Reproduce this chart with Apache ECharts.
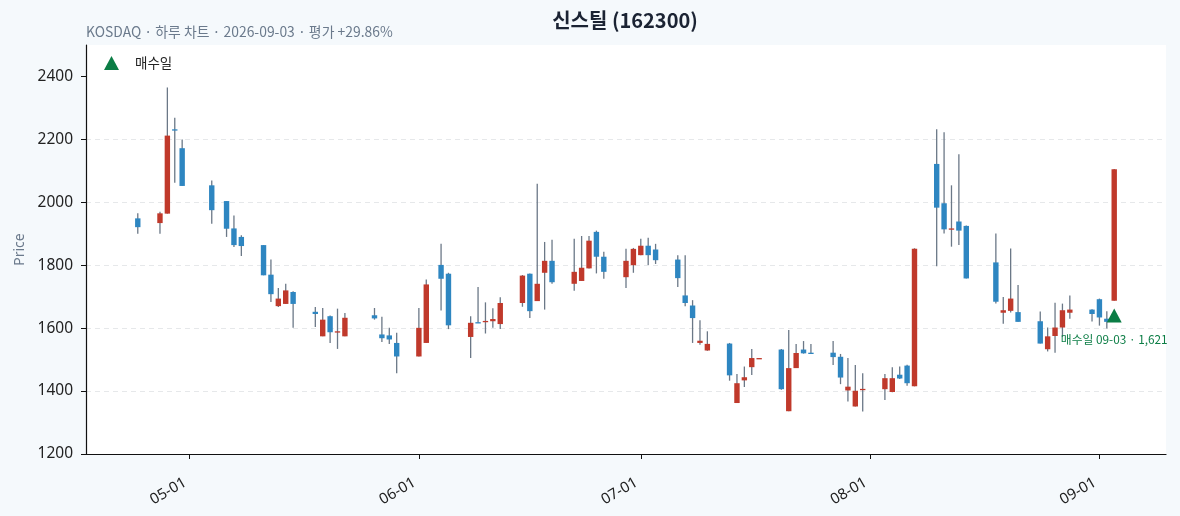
<!DOCTYPE html>
<html>
<head>
<meta charset="utf-8">
<title>신스틸 (162300)</title>
<script src="https://cdn.jsdelivr.net/npm/echarts@6/dist/echarts.min.js"></script>
<style>
  html, body { margin: 0; padding: 0; background: #f5f9fc; }
  #chart { width: 1180px; height: 516px; }
</style>
</head>
<body>
<div id="chart"></div>
<script>
// 일봉 데이터 (날짜, 시가, 종가, 저가, 고가)
var dates = [
  '2026-04-24','2026-04-27','2026-04-28','2026-04-29','2026-04-30',
  '2026-05-04','2026-05-06','2026-05-07','2026-05-08',
  '2026-05-11','2026-05-12','2026-05-13','2026-05-14','2026-05-15',
  '2026-05-18','2026-05-19','2026-05-20','2026-05-21','2026-05-22',
  '2026-05-26','2026-05-27','2026-05-28','2026-05-29',
  '2026-06-01','2026-06-02','2026-06-04','2026-06-05',
  '2026-06-08','2026-06-09','2026-06-10','2026-06-11','2026-06-12',
  '2026-06-15','2026-06-16','2026-06-17','2026-06-18','2026-06-19',
  '2026-06-22','2026-06-23','2026-06-24','2026-06-25','2026-06-26',
  '2026-06-29','2026-06-30','2026-07-01','2026-07-02','2026-07-03',
  '2026-07-06','2026-07-07','2026-07-08','2026-07-09','2026-07-10',
  '2026-07-13','2026-07-14','2026-07-15','2026-07-16','2026-07-17',
  '2026-07-20','2026-07-21','2026-07-22','2026-07-23','2026-07-24',
  '2026-07-27','2026-07-28','2026-07-29','2026-07-30','2026-07-31',
  '2026-08-03','2026-08-04','2026-08-05','2026-08-06','2026-08-07',
  '2026-08-10','2026-08-11','2026-08-12','2026-08-13','2026-08-14',
  '2026-08-18','2026-08-19','2026-08-20','2026-08-21',
  '2026-08-24','2026-08-25','2026-08-26','2026-08-27','2026-08-28',
  '2026-08-31','2026-09-01','2026-09-02','2026-09-03'
];
var opens = [
  1949,1934,1964,2232,2172,
  2054,2004,1917,1890,
  1864,1770,1670,1677,1715,
  1652,1574,1638,1587,1574,
  1641,1580,1577,1553,
  1510,1553,1801,1773,
  1572,1619,1619,1622,1613,
  1680,1773,1686,1776,1814,
  1741,1750,1790,1906,1827,
  1762,1800,1832,1862,1850,
  1818,1704,1672,1553,1529,
  1551,1362,1434,1476,1503,
  1532,1336,1473,1532,1522,
  1522,1509,1402,1351,1405,
  1406,1397,1452,1481,1415,
  2122,1997,1914,1939,1925,
  1809,1649,1655,1651,
  1622,1533,1575,1602,1649,
  1659,1692,1630,1687
];
var closes = [
  1921,1965,2212,2228,2052,
  1975,1916,1864,1861,
  1768,1708,1694,1720,1677,
  1645,1627,1587,1590,1633,
  1631,1568,1564,1510,
  1601,1739,1757,1609,
  1617,1617,1623,1629,1680,
  1767,1654,1741,1814,1746,
  1779,1792,1878,1827,1779,
  1814,1852,1862,1832,1816,
  1759,1680,1632,1560,1550,
  1450,1425,1444,1505,1505,
  1406,1473,1521,1520,1518,
  1508,1443,1414,1401,1407,
  1441,1441,1440,1425,1852,
  1983,1914,1917,1910,1758,
  1684,1657,1694,1620,
  1551,1574,1602,1657,1659,
  1645,1634,1620,2105
];
var lows = [
  1900,1900,1964,2062,2052,
  1932,1890,1858,1829,
  1768,1683,1667,1677,1601,
  1604,1574,1553,1534,1574,
  1627,1556,1550,1457,
  1510,1553,1656,1597,
  1505,1617,1583,1601,1597,
  1668,1632,1686,1659,1741,
  1719,1750,1790,1774,1757,
  1728,1776,1832,1801,1804,
  1731,1670,1553,1547,1528,
  1433,1362,1413,1451,1503,
  1404,1336,1473,1519,1518,
  1483,1422,1367,1351,1335,
  1372,1396,1438,1417,1415,
  1797,1901,1859,1864,1758,
  1678,1614,1650,1620,
  1551,1526,1522,1572,1630,
  1621,1608,1599,1687
];
var highs = [
  1965,1970,2365,2269,2200,
  2069,2004,1958,1895,
  1864,1818,1728,1741,1717,
  1667,1664,1640,1662,1648,
  1664,1636,1601,1585,
  1664,1755,1868,1776,
  1638,1731,1682,1663,1698,
  1769,1774,2059,1874,1881,
  1884,1893,1893,1910,1843,
  1852,1855,1884,1887,1868,
  1832,1832,1689,1625,1590,
  1553,1454,1478,1534,1505,
  1534,1594,1550,1559,1550,
  1559,1518,1505,1483,1457,
  1454,1476,1478,1484,1854,
  2232,2223,2054,2153,1926,
  1901,1699,1853,1737,
  1653,1602,1681,1678,1704,
  1660,1694,1654,2106
];

// 매수 정보
var buyDate = '2026-09-03';
var buyPrice = 1621;
var evalPct = 29.86;

// y축 눈금
var yMin = 1200, yMax = 2500, yStep = 200;
var yTicks = [1200, 1400, 1600, 1800, 2000, 2200, 2400];
// x축 눈금 (월초)
var monthTicks = ['2026-05-01','2026-06-01','2026-07-01','2026-08-01','2026-09-01'];

function ts(s) {
  var p = s.split('-');
  return new Date(+p[0], +p[1] - 1, +p[2]).getTime();
}

var UP = '#c0392b', DOWN = '#2e86c1', WICK = '#6b7887', BUY = '#0b7d45';
var CJK = '"Noto Sans CJK KR", "Noto Sans", sans-serif';
var TICKFONT = '"Noto Sans", "Noto Sans CJK KR", sans-serif';

var candleData = dates.map(function (d, i) {
  return [ts(d), opens[i], closes[i], lows[i], highs[i]];
});

var chart = echarts.init(document.getElementById('chart'));

var option = {
  backgroundColor: '#f5f9fc',
  animation: false,
  textStyle: { fontFamily: CJK },
  title: [{
    text: '신스틸 (162300)',
    left: 625, top: 10, textAlign: 'center', padding: 0,
    textStyle: { fontSize: 20, fontWeight: 'bold', color: '#1b2333', fontFamily: CJK }
  }, {
    text: 'KOSDAQ · 하루 차트 · ' + buyDate + ' · 평가 +' + evalPct.toFixed(2) + '%',
    left: 86, top: 25, padding: 0,
    textStyle: { fontSize: 13.9, fontWeight: 'normal', color: '#6b7a8c', fontFamily: CJK }
  }],
  legend: {
    data: ['매수일'],
    left: 99, top: 51,
    icon: 'triangle',
    itemWidth: 15, itemHeight: 14,
    itemStyle: { opacity: 1 },
    textStyle: { fontSize: 13.5, color: '#222', padding: [0, 0, 0, 11], fontFamily: CJK }
  },
  grid: { left: 86, right: 14, top: 45, bottom: 62, show: true, backgroundColor: '#fff', borderWidth: 0 },
  xAxis: {
    type: 'value',
    min: ts('2026-04-17'),
    max: ts('2026-09-10'),
    axisLine: { show: true, onZero: false, lineStyle: { color: '#111', width: 1.2 } },
    axisTick: { show: true, length: 5, lineStyle: { color: '#111' }, customValues: monthTicks.map(ts) },
    axisLabel: {
      customValues: monthTicks.map(ts),
      rotate: 30, fontSize: 15, color: '#222', margin: 25, padding: [0, 5, 0, 0],
      fontFamily: TICKFONT,
      formatter: function (v) { return echarts.time.format(v, '{MM}-{dd}', false); }
    },
    splitLine: { show: false }
  },
  yAxis: {
    type: 'value',
    min: yMin, max: yMax, interval: yStep,
    name: 'Price', nameLocation: 'middle', nameGap: 59,
    nameTextStyle: { fontSize: 14, color: '#6b7a8c', fontFamily: TICKFONT },
    axisLine: { show: true, lineStyle: { color: '#111', width: 1.2 } },
    axisTick: { show: true, length: 5, lineStyle: { color: '#111' }, customValues: yTicks },
    axisLabel: {
      customValues: yTicks, fontSize: 15.5, color: '#222', margin: 13,
      fontFamily: TICKFONT,
      formatter: function (v) { return String(v); }
    },
    splitLine: { show: true, showMaxLine: false, lineStyle: { color: '#e6e8ea', type: [5, 4], width: 1 } }
  },
  series: [{
    name: '일봉',
    type: 'custom',
    data: candleData,
    encode: { x: 0, y: [1, 2, 3, 4] },
    renderItem: function (params, api) {
      var x = api.value(0);
      var o = api.value(1), c = api.value(2), l = api.value(3), h = api.value(4);
      var pH = api.coord([x, h]), pL = api.coord([x, l]);
      var yO = api.coord([x, o])[1], yC = api.coord([x, c])[1];
      var w = 5.4;
      var top = Math.min(yO, yC), hgt = Math.max(Math.abs(yO - yC), 1.3);
      return {
        type: 'group',
        children: [{
          type: 'line',
          shape: { x1: pH[0], y1: pH[1], x2: pL[0], y2: pL[1] },
          style: { stroke: WICK, lineWidth: 1.3 }
        }, {
          type: 'rect',
          shape: { x: pH[0] - w / 2, y: top, width: w, height: hgt },
          style: { fill: c >= o ? UP : DOWN }
        }]
      };
    }
  }, {
    name: '매수일',
    type: 'scatter',
    data: [[ts(buyDate), buyPrice]],
    symbol: 'triangle',
    symbolSize: [15, 14],
    symbolOffset: [0, -6],
    itemStyle: { color: BUY, opacity: 1 },
    label: {
      show: true, position: 'bottom', distance: 11,
      fontSize: 11.8, color: BUY, fontFamily: CJK,
      formatter: '매수일 09-03 · ' + buyPrice.toLocaleString('en-US')
    },
    z: 5
  }]
};

chart.setOption(option);
</script>
</body>
</html>
